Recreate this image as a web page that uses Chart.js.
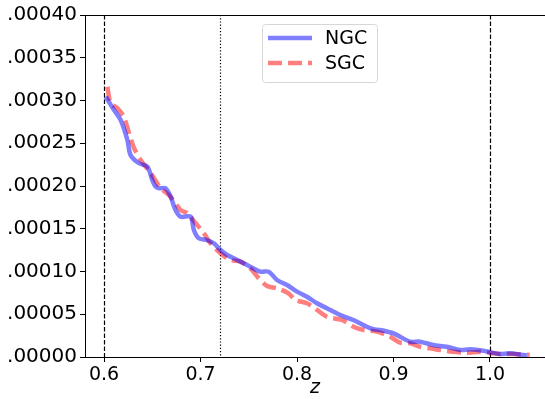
<!DOCTYPE html>
<html>
<head>
<meta charset="utf-8">
<script src="https://cdn.jsdelivr.net/npm/chart.js@4.4.0/dist/chart.umd.min.js"></script>
<style>
  html, body { margin: 0; padding: 0; background: #fff; }
  #wrap { width: 545px; height: 399px; }
</style>
</head>
<body>
<div id="wrap"><canvas id="nz"></canvas></div>
<script>
// n(z) values
var ngcZ = [0.6018, 0.6103, 0.6173, 0.6242, 0.6276, 0.6362, 0.6449, 0.650, 0.6535, 0.6569, 0.6638, 0.669, 0.6741, 0.6793, 0.6897, 0.6931, 0.6982, 0.7069, 0.7138, 0.7207, 0.7276, 0.738, 0.7483, 0.762, 0.7706, 0.7793, 0.7897, 0.800, 0.8103, 0.8207, 0.831, 0.8448, 0.8585, 0.8724, 0.8792, 0.8861, 0.8999, 0.9068, 0.9172, 0.9275, 0.9413, 0.9551, 0.9689, 0.9792, 0.993, 1.0016, 1.0102, 1.0206, 1.0343, 1.0382];
var ngcN = [0.0003045, 0.000289, 0.000277, 0.000254, 0.000236, 0.0002266, 0.0002226, 0.000207, 0.0001992, 0.0001973, 0.0001973, 0.0001875, 0.0001719, 0.0001641, 0.0001641, 0.0001485, 0.0001388, 0.0001368, 0.000133, 0.0001251, 0.0001193, 0.0001135, 0.0001076, 0.0000998, 0.0000998, 0.0000901, 0.0000842, 0.0000764, 0.0000705, 0.0000628, 0.000057, 0.0000491, 0.0000433, 0.0000354, 0.0000324, 0.0000316, 0.0000277, 0.0000237, 0.0000179, 0.0000179, 0.000014, 0.000012, 0.0000082, 0.000009, 0.0000074, 0.0000051, 0.0000035, 0.0000043, 0.0000023, 0.000002];

var sgcZ = [0.6035, 0.6069, 0.6139, 0.6204, 0.6255, 0.6307, 0.638, 0.6483, 0.6586, 0.669, 0.6793, 0.6862, 0.6948, 0.7034, 0.7103, 0.7207, 0.731, 0.7414, 0.7517, 0.7603, 0.769, 0.7793, 0.7913, 0.7982, 0.8103, 0.8207, 0.831, 0.8465, 0.8585, 0.8689, 0.8827, 0.8965, 0.9068, 0.9172, 0.9275, 0.9378, 0.9482, 0.9619, 0.9758, 0.9896, 0.9999, 1.0102, 1.024, 1.0412];
var sgcN = [0.0003161, 0.0002971, 0.0002909, 0.0002811, 0.0002635, 0.0002456, 0.0002304, 0.0002152, 0.0001977, 0.0001875, 0.0001719, 0.0001684, 0.0001567, 0.000145, 0.000133, 0.0001213, 0.0001135, 0.0001115, 0.0001037, 0.000092, 0.000083, 0.0000804, 0.0000745, 0.0000667, 0.0000628, 0.000055, 0.0000471, 0.0000433, 0.0000354, 0.0000316, 0.0000296, 0.0000237, 0.0000167, 0.000016, 0.000012, 0.0000102, 0.0000082, 0.0000062, 0.000005, 0.0000062, 0.000005, 0.0000035, 0.0000035, 0.0000023];

var seriesNames = ['NGC', 'SGC'];
var xTicks = [0.6, 0.7, 0.8, 0.9, 1.0];
var yTicks = [0, 0.00005, 0.0001, 0.00015, 0.0002, 0.00025, 0.0003, 0.00035, 0.0004];
var zCuts = [0.6, 0.72, 1.0]; // vertical markers
var xLabel = 'z';

var toXY = function(xs, ys) {
    return xs.map(function(x, i) { return { x: x, y: ys[i] }; });
};

var FONT = 'DejaVu Sans';

// vertical marker lines + top spine
var markers = {
    id: 'markers',
    beforeDatasetsDraw: function(chart) {
        var c = chart.ctx, xs = chart.scales.x, a = chart.chartArea;
        c.save();
        c.strokeStyle = '#000';
        c.lineWidth = 1.2;
        zCuts.forEach(function(z, i) {
            var px = Math.round(xs.getPixelForValue(z)) + 0.5;
            c.setLineDash(i === 1 ? [1.2, 2] : [4.5, 2]);
            c.beginPath();
            c.moveTo(px, a.top);
            c.lineTo(px, a.bottom);
            c.stroke();
        });
        c.setLineDash([]);
        c.lineWidth = 1;
        c.beginPath();
        c.moveTo(a.left, a.top + 0.5);
        c.lineTo(a.right, a.top + 0.5);
        c.stroke();
        c.restore();
    }
};

// matplotlib-like legend box
var legendBox = {
    id: 'legendBox',
    afterDatasetsDraw: function(chart) {
        var c = chart.ctx;
        var x0 = 262, y0 = 24, w = 115, h = 58;
        c.save();
        c.fillStyle = 'rgba(255,255,255,0.8)';
        c.strokeStyle = '#d6d6d6';
        c.lineWidth = 1;
        c.beginPath();
        c.roundRect(x0 + 0.5, y0 + 0.5, w, h, 3);
        c.fill();
        c.stroke();
        chart.data.datasets.forEach(function(ds, i) {
            var yy = y0 + 14 + i * 25;
            c.strokeStyle = ds.borderColor;
            c.lineWidth = ds.borderWidth;
            c.setLineDash(ds.borderDash || []);
            c.beginPath();
            c.moveTo(x0 + 6, yy);
            c.lineTo(x0 + 50, yy);
            c.stroke();
            c.setLineDash([]);
            c.fillStyle = '#000';
            c.font = '19px "' + FONT + '"';
            c.textBaseline = 'middle';
            c.fillText(ds.label, x0 + 63, yy + 1);
        });
        c.restore();
    }
};

var ctx = document.getElementById('nz').getContext('2d');
var chart = new Chart(ctx, {
    type: 'scatter',
    data: {
        datasets: [{
            label: seriesNames[0],
            data: toXY(ngcZ, ngcN),
            showLine: true,
            borderColor: 'rgba(0,0,255,0.5)',
            borderWidth: 4.5,
            pointRadius: 0,
            tension: 0.3,
            fill: false
        }, {
            label: seriesNames[1],
            data: toXY(sgcZ, sgcN),
            showLine: true,
            borderColor: 'rgba(255,0,0,0.5)',
            borderWidth: 4.5,
            borderDash: [14, 6],
            pointRadius: 0,
            tension: 0.3,
            fill: false
        }]
    },
    options: {
        responsive: true,
        maintainAspectRatio: false,
        animation: false,
        layout: { padding: { top: 15, right: 0, left: 0, bottom: 0 } },
        plugins: {
            legend: { display: false },
            tooltip: { enabled: false }
        },
        scales: {
            x: {
                type: 'linear',
                min: 0.5803,
                max: 1.057,
                afterBuildTicks: function(s) { s.ticks = xTicks.map(function(v) { return { value: v }; }); },
                afterFit: function(s) { s.height = 42; },
                ticks: {
                    color: '#000',
                    font: { family: FONT, size: 19 },
                    padding: 2,
                    maxRotation: 0,
                    autoSkip: false,
                    callback: function(v) { return v.toFixed(1); }
                },
                grid: { drawOnChartArea: false, drawTicks: true, tickLength: 5, tickColor: '#000' },
                border: { display: true, color: '#000', width: 1 },
                title: {
                    display: true,
                    text: xLabel,
                    color: '#000',
                    font: { family: FONT, size: 19, style: 'italic' },
                    padding: { top: -3, bottom: 0 }
                }
            },
            y: {
                type: 'linear',
                min: 0,
                max: 0.0004,
                afterBuildTicks: function(s) { s.ticks = yTicks.map(function(v) { return { value: v }; }); },
                afterFit: function(s) { s.width = 85; },
                ticks: {
                    color: '#000',
                    font: { family: FONT, size: 20 },
                    padding: 3,
                    autoSkip: false,
                    callback: function(v) { return v.toFixed(5).replace(/^0/, ''); }
                },
                grid: { drawOnChartArea: false, drawTicks: true, tickLength: 5, tickColor: '#000' },
                border: { display: true, color: '#000', width: 1 }
            }
        }
    },
    plugins: [markers, legendBox]
});
</script>
</body>
</html>
